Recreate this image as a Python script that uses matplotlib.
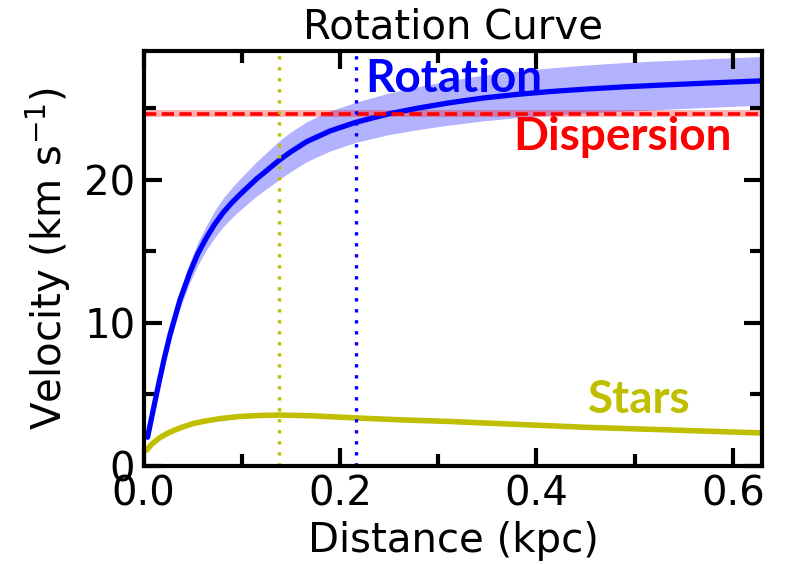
import numpy as np
import matplotlib.pyplot as plt
from matplotlib.ticker import MultipleLocator

# rotation curve (km/s) vs radius (kpc)
r_rot = [0.004, 0.010, 0.016, 0.021, 0.027, 0.037, 0.047, 0.055, 0.064, 0.072,
         0.081, 0.090, 0.098, 0.115, 0.138, 0.149, 0.166, 0.190, 0.216, 0.250,
         0.280, 0.310, 0.346, 0.380, 0.414, 0.450, 0.490, 0.527, 0.580, 0.630]
v_rot = [2.0, 4.0, 5.95, 7.5, 9.2, 11.6, 13.5, 14.8, 15.95, 16.85,
         17.7, 18.4, 18.95, 20.05, 21.35, 21.9, 22.65, 23.4, 24.0, 24.6,
         25.0, 25.35, 25.7, 25.95, 26.15, 26.32, 26.48, 26.6, 26.76, 26.9]
# half-width of the uncertainty band at the same radii
v_rot_err = [0.0, 0.15, 0.3, 0.4, 0.5, 0.6, 0.7, 0.8, 0.85, 0.95,
             1.0, 1.05, 1.1, 1.2, 1.35, 1.38, 1.4, 1.4, 1.4, 1.45,
             1.5, 1.55, 1.6, 1.62, 1.65, 1.68, 1.7, 1.7, 1.7, 1.7]

# stellar contribution
r_star = [0.003, 0.008, 0.016, 0.025, 0.037, 0.050, 0.064, 0.080, 0.098, 0.118,
          0.138, 0.170, 0.216, 0.260, 0.312, 0.380, 0.448, 0.540, 0.630]
v_star = [1.1, 1.5, 1.95, 2.3, 2.65, 2.95, 3.15, 3.32, 3.45, 3.52,
          3.55, 3.5, 3.35, 3.22, 3.1, 2.9, 2.7, 2.5, 2.3]

# velocity dispersion and its error
sigma = 24.6
sigma_err = 0.25

# characteristic radii
r_star_eff = 0.138
r_rot_eff = 0.216

v_rot = np.array(v_rot)
v_rot_err = np.array(v_rot_err)

fig = plt.figure(figsize=(7.85, 5.64), dpi=100)
ax = fig.add_axes([0.183, 0.174, 0.788, 0.736])

ax.fill_between(r_rot, v_rot - v_rot_err, v_rot + v_rot_err, color='b', alpha=0.3, lw=0)
ax.plot(r_rot, v_rot, color='b', lw=3.8, solid_capstyle='round', solid_joinstyle='round')
ax.plot(r_star, v_star, color='y', lw=4, solid_capstyle='round', solid_joinstyle='round')
ax.axhspan(sigma - sigma_err, sigma + sigma_err, color='r', alpha=0.3, lw=0)
ax.axhline(sigma, color='r', ls=(0, (3.4, 1.5)), lw=2.6)
ax.axvline(r_star_eff, color='y', ls=(0, (1, 2.3)), lw=2.4)
ax.axvline(r_rot_eff, color='b', ls=(0, (1, 2.3)), lw=2.4)

ax.set_xlim(0, 0.63)
ax.set_ylim(0, 29)

ax.text(0.2255, 26.1, 'Rotation', color='b', fontsize=33, fontweight='bold',
        family='Lato', va='baseline')
ax.text(0.376, 22.1, 'Dispersion', color='r', fontsize=33, fontweight='bold',
        family='Lato', va='baseline')
ax.text(0.453, 3.7, 'Stars', color='y', fontsize=33, fontweight='bold',
        family='Lato', va='baseline')

ax.xaxis.set_major_locator(MultipleLocator(0.2))
ax.xaxis.set_minor_locator(MultipleLocator(0.1))
ax.yaxis.set_major_locator(MultipleLocator(10))
ax.yaxis.set_minor_locator(MultipleLocator(5))
ax.tick_params(which='both', direction='in', top=True, right=True,
               width=3, labelsize=29, pad=6)
ax.tick_params(which='major', length=13)
ax.tick_params(which='minor', length=8.5)
for s in ax.spines.values():
    s.set_linewidth(3)

ax.set_xlabel('Distance (kpc)', fontsize=29, labelpad=5)
ax.set_ylabel('Velocity (km s$^{-1}$)', fontsize=29, labelpad=8)
ax.set_title('Rotation Curve', fontsize=29, pad=9)

fig.savefig('out.png', dpi=100)
